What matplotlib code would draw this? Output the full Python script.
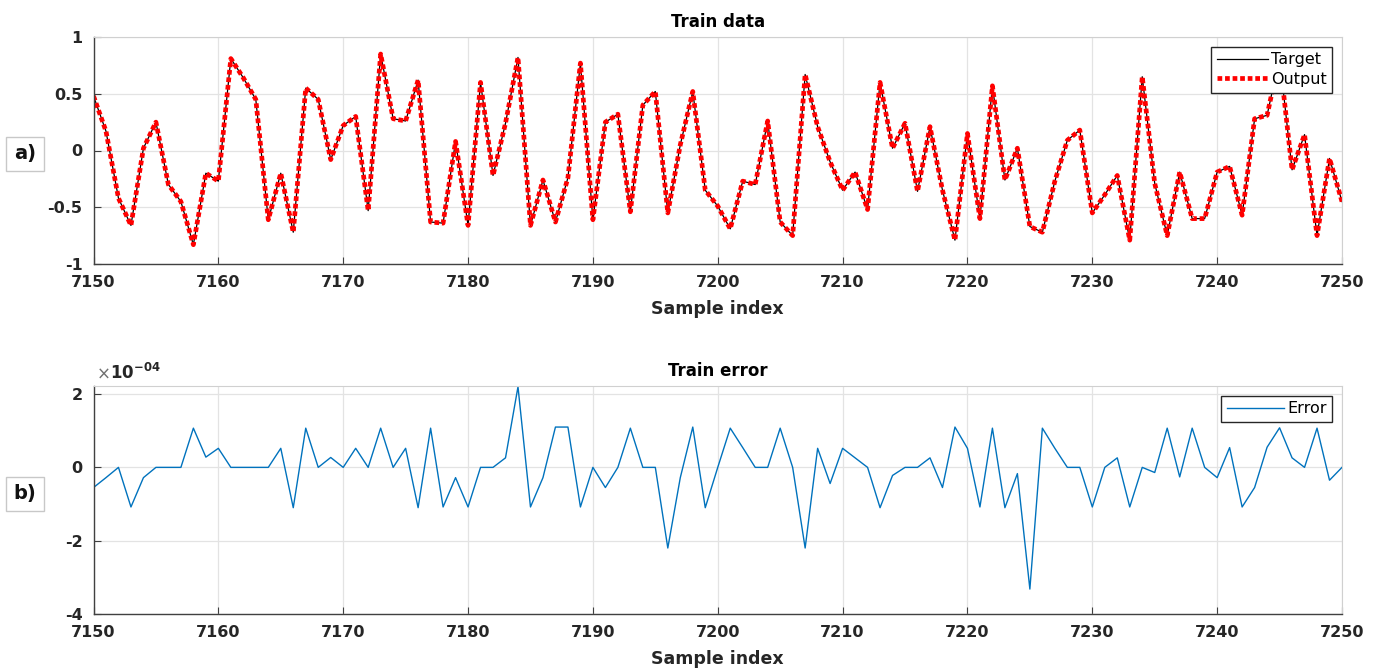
import numpy as np
import matplotlib
matplotlib.use('Agg')
import matplotlib.pyplot as plt

plt.rcParams['font.family'] = ['DejaVu Sans']
plt.rcParams['axes.unicode_minus'] = False

# sample indices shown in both panels
samples = list(range(7150, 7251))

# network target / output on the training window (output lies on the target)
target = [0.48, 0.17, -0.42, -0.66, 0.02, 0.25, -0.30, -0.45, -0.83, -0.20,
          -0.27, 0.81, 0.64, 0.45, -0.61, -0.20, -0.72, 0.55, 0.45, -0.08,
          0.22, 0.30, -0.53, 0.85, 0.28, 0.26, 0.62, -0.63, -0.64, 0.08,
          -0.66, 0.60, -0.22, 0.24, 0.82, -0.66, -0.26, -0.63, -0.24, 0.77,
          -0.61, 0.25, 0.32, -0.54, 0.40, 0.52, -0.55, 0.05, 0.52, -0.35,
          -0.49, -0.69, -0.27, -0.30, 0.26, -0.63, -0.75, 0.67, 0.21, -0.10,
          -0.35, -0.19, -0.52, 0.60, 0.02, 0.24, -0.36, 0.21, -0.35, -0.79,
          0.15, -0.60, 0.57, -0.26, 0.02, -0.67, -0.72, -0.27, 0.09, 0.18,
          -0.55, -0.39, -0.22, -0.79, 0.65, -0.29, -0.75, -0.19, -0.60, -0.60,
          -0.19, -0.14, -0.57, 0.28, 0.31, 0.82, -0.17, 0.14, -0.75, -0.07,
          -0.45]
output = list(target)

# train error, in units of 1e-4
error_e4 = [-0.55, -0.28, 0, -1.08, -0.28, 0, 0, 0, 1.07, 0.28,
            0.52, 0, 0, 0, 0, 0.52, -1.10, 1.07, 0, 0.27,
            0, 0.52, 0, 1.07, 0, 0.52, -1.10, 1.07, -1.08, -0.28,
            -1.08, 0, 0, 0.26, 2.2, -1.08, -0.28, 1.1, 1.1, -1.08,
            0, -0.55, 0, 1.07, 0, 0, -2.2, -0.28, 1.1, -1.1,
            0, 1.07, 0.54, 0, 0, 1.07, 0, -2.2, 0.52, -0.44,
            0.52, 0.26, 0, -1.1, -0.22, 0, 0, 0.26, -0.55, 1.1,
            0.52, -1.08, 1.07, -1.1, -0.17, -3.32, 1.07, 0.52, 0, 0,
            -1.08, 0, 0.26, -1.08, 0, -0.14, 1.07, -0.26, 1.07, 0,
            -0.28, 0.54, -1.08, -0.55, 0.55, 1.08, 0.26, 0, 1.07, -0.35,
            0]

xticks = list(range(7150, 7251, 10))
top_yticks = [-1, -0.5, 0, 0.5, 1]
bot_yticks = [-4, -2, 0, 2]

W, H = 1376, 669
fig = plt.figure(figsize=(W / 100, H / 100), dpi=100)

def style(ax):
    ax.grid(True, color='#e3e3e3', linewidth=0.9)
    ax.set_axisbelow(True)
    for s in ['top', 'right']:
        ax.spines[s].set_color('#d0d0d0')
    for s in ['left', 'bottom']:
        ax.spines[s].set_color('#404040')
        ax.spines[s].set_linewidth(1.0)
    ax.tick_params(direction='in', length=5, color='#404040', top=False, right=False,
                   labelsize=11.5)
    ax.tick_params(axis='x', pad=8)
    ax.tick_params(axis='y', pad=8)
    for lab in ax.get_xticklabels() + ax.get_yticklabels():
        lab.set_fontweight('bold')
        lab.set_color('#262626')
    ax.set_xlim(7150, 7250)
    ax.set_xticks(xticks)
    ax.set_xlabel('Sample index', fontsize=12.5, fontweight='bold', labelpad=7,
                  color='#262626')

# top panel: train data
ax1 = fig.add_axes([93.5 / W, 405 / H, (1342 - 93.5) / W, 227 / H])
ax1.plot(samples, target, color='black', linewidth=0.9, label='Target')
ax1.plot(samples, output, color='red', linewidth=3.4, linestyle=(0, (1, 0.6)),
         dash_capstyle='butt', label='Output')
ax1.set_ylim(-1, 1)
ax1.set_yticks(top_yticks)
ax1.set_yticklabels(['-1', '-0.5', '0', '0.5', '1'])
style(ax1)
ax1.set_title('Train data', fontsize=12, fontweight='bold', pad=7)
leg1 = ax1.legend(loc='upper right', prop={'size': 11.5}, frameon=True, fancybox=False,
                  framealpha=1.0, edgecolor='#262626', borderpad=0.35, handlelength=3.2,
                  handletextpad=0.2, labelspacing=0.3, borderaxespad=0.6)
leg1.get_frame().set_linewidth(1.0)

# bottom panel: train error
ax2 = fig.add_axes([93.5 / W, 55 / H, (1342 - 93.5) / W, 228 / H])
ax2.plot(samples, error_e4, color='#0072BD', linewidth=1.0, label='Error')
ax2.set_ylim(-4, 2.22)
ax2.set_yticks(bot_yticks)
style(ax2)
ax2.set_title('Train error', fontsize=12, fontweight='bold', pad=7)
ax2.text(0.002, 1.015, r'$\times$', transform=ax2.transAxes,
         fontsize=12, color='#707070', ha='left', va='bottom')
ax2.text(0.013, 1.015, r'$\mathbf{10}^{\mathbf{-04}}$', transform=ax2.transAxes,
         fontsize=12, color='#262626', ha='left', va='bottom')
leg2 = ax2.legend(loc='upper right', prop={'size': 11.5}, frameon=True, fancybox=False,
                  framealpha=1.0, edgecolor='#262626', borderpad=0.35, handlelength=3.6,
                  handletextpad=0.2, borderaxespad=0.6)
leg2.get_frame().set_linewidth(1.0)

# panel letters in small boxes at the left
for lbl, yc in [('a)', 154), ('b)', 494)]:
    fig.text(25 / W, 1 - yc / H, lbl, fontsize=14, fontweight='bold', ha='center', va='center',
             color='#111111',
             bbox=dict(boxstyle='square,pad=0.4', facecolor='white', edgecolor='#c8c8c8',
                       linewidth=1.0))

fig.savefig('out.png', dpi=100)
